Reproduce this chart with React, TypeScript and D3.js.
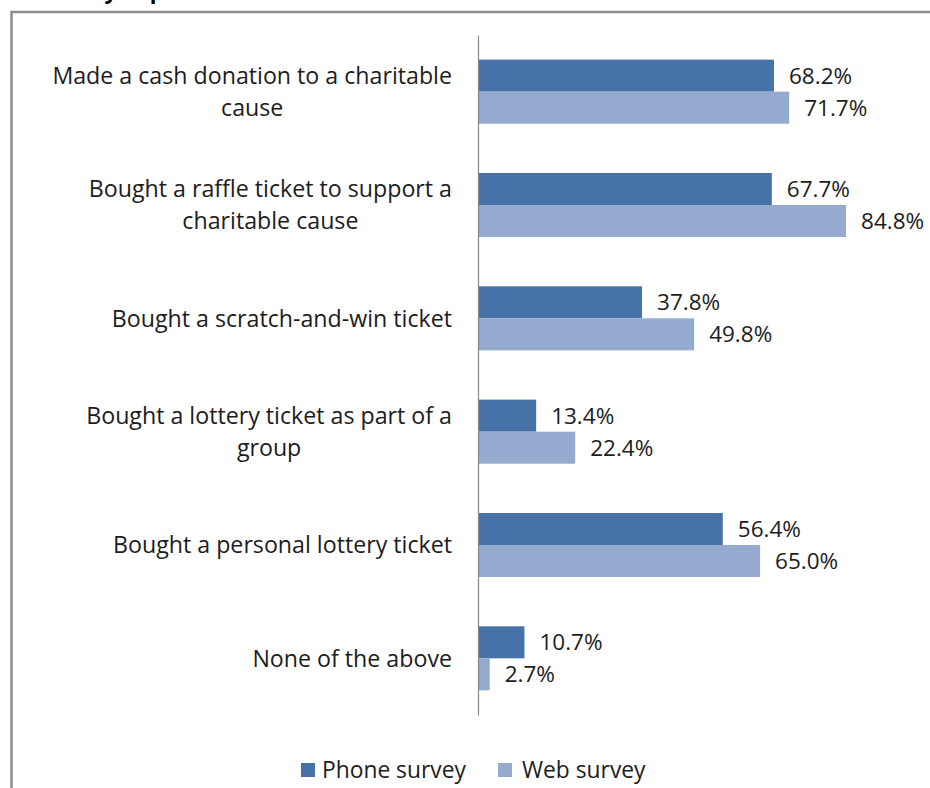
import React, { useEffect, useRef } from "react";
import * as d3 from "d3";

const categories = [
  ["Made a cash donation to a charitable", "cause"],
  ["Bought a raffle ticket to support a", "charitable cause"],
  ["Bought a scratch-and-win ticket"],
  ["Bought a lottery ticket as part of a", "group"],
  ["Bought a personal lottery ticket"],
  ["None of the above"],
];
const phoneValues = [68.2, 67.7, 37.8, 13.4, 56.4, 10.7];
const webValues = [71.7, 84.8, 49.8, 22.4, 65.0, 2.7];
const seriesNames = ["Phone survey", "Web survey"];
const seriesColors = ["#4672A7", "#94AACF"];
const titleText = "Activity in past 12 months";

const W = 930;
const H = 788;
const FONT = "'Open Sans', 'DejaVu Sans', sans-serif";
const TEXT = "#1c1c1c";

export default function App() {
  const ref = useRef<SVGSVGElement>(null);

  useEffect(() => {
    const svg = d3.select(ref.current);
    svg.selectAll("*").remove();

    // partial (clipped) title
    svg
      .append("text")
      .attr("x", 33)
      .attr("y", -1)
      .attr("font-family", FONT)
      .attr("font-weight", "bold")
      .attr("font-size", 22)
      .attr("fill", "#000")
      .text(titleText);

    // frame
    svg
      .append("path")
      .attr("d", `M11.5,${H} L11.5,12 L${W},12`)
      .attr("fill", "none")
      .attr("stroke", "#8c8c8c")
      .attr("stroke-width", 2.5);

    const x0 = 478;
    const x = d3.scaleLinear().domain([0, 100]).range([x0, x0 + 434]);
    const y = d3
      .scaleBand<number>()
      .domain(d3.range(categories.length))
      .range([35, 715])
      .paddingInner(0.435)
      .paddingOuter(0.2175);
    const bh = y.bandwidth() / 2;

    const series = [phoneValues, webValues];
    series.forEach((vals, si) => {
      const g = svg.append("g");
      g.selectAll("rect")
        .data(vals)
        .enter()
        .append("rect")
        .attr("x", x(0))
        .attr("y", (_, i) => (y(i) as number) + si * bh)
        .attr("width", (v) => x(v) - x(0))
        .attr("height", bh)
        .attr("fill", seriesColors[si]);
      g.selectAll("text")
        .data(vals)
        .enter()
        .append("text")
        .attr("x", (v) => x(v) + 15)
        .attr("y", (_, i) => (y(i) as number) + si * bh + bh / 2)
        .attr("dy", "0.36em")
        .attr("font-family", FONT)
        .attr("font-size", 22.5)
        .attr("fill", TEXT)
        .text((v) => v.toFixed(1) + "%");
    });

    // axis line
    const axis = d3.axisLeft(d3.scaleLinear().domain([0, 1]).range([715, 35])).ticks(0).tickSize(0);
    const ag = svg.append("g").attr("transform", `translate(${x0},0)`).call(axis as any);
    ag.select(".domain").attr("stroke", "#888").attr("stroke-width", 1.2);
    ag.selectAll(".tick").remove();

    // category labels (centered block, right aligned)
    const labelRight = 452;
    const lineH = 32;
    categories.forEach((lines, i) => {
      const cy = (y(i) as number) + y.bandwidth() / 2;
      const g = svg.append("g");
      const texts = lines.map((ln, li) =>
        g
          .append("text")
          .attr("y", cy + (li - (lines.length - 1) / 2) * lineH)
          .attr("dy", "0.36em")
          .attr("font-family", FONT)
          .attr("font-size", 23.2)
          .attr("fill", TEXT)
          .attr("text-anchor", "middle")
          .text(ln)
      );
      const maxW = d3.max(texts, (t) => (t.node() as SVGTextElement).getComputedTextLength()) || 0;
      texts.forEach((t) => t.attr("x", labelRight - maxW / 2));
    });

    // legend
    const legendItems = [
      { x: 301, tx: 322, name: seriesNames[0], color: seriesColors[0] },
      { x: 498, tx: 522, name: seriesNames[1], color: seriesColors[1] },
    ];
    legendItems.forEach((it) => {
      svg.append("rect").attr("x", it.x).attr("y", 763).attr("width", 14).attr("height", 14).attr("fill", it.color);
      svg
        .append("text")
        .attr("x", it.tx)
        .attr("y", 770)
        .attr("dy", "0.36em")
        .attr("font-family", FONT)
        .attr("font-size", 22.8)
        .attr("fill", TEXT)
        .text(it.name);
    });
  }, []);

  return (
    <svg
      ref={ref}
      width={W}
      height={H}
      style={{ position: "absolute", left: 0, top: 0, background: "#fff" }}
    />
  );
}
